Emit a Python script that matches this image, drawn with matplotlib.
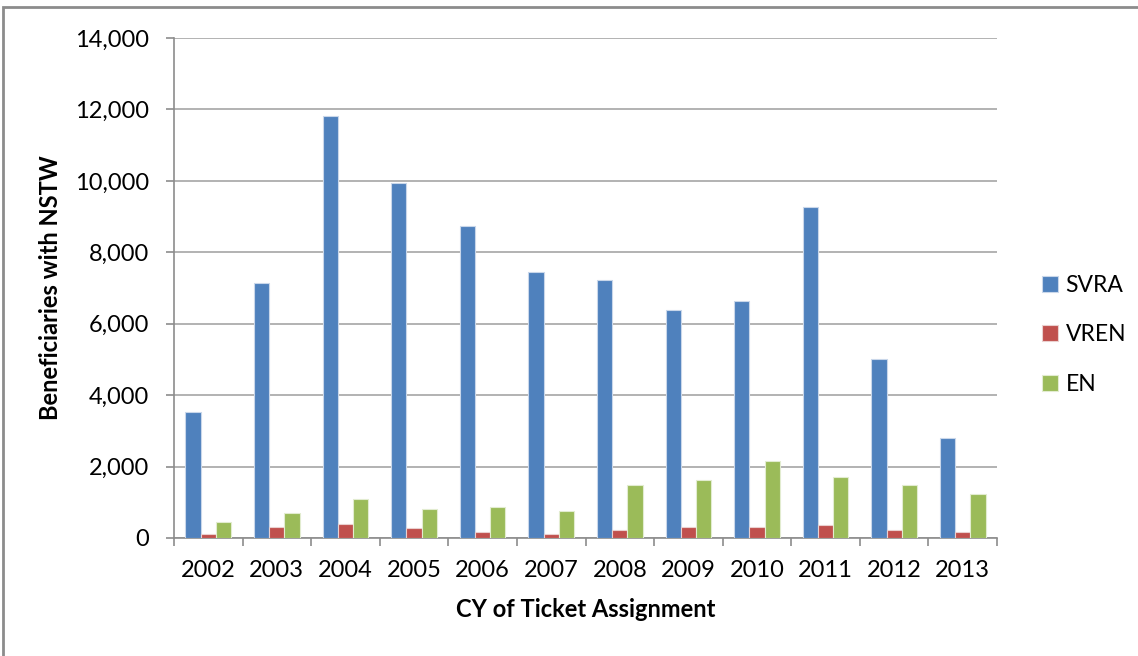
import matplotlib.pyplot as plt
import matplotlib.ticker as mticker
import numpy as np

# Data
years = ["2002", "2003", "2004", "2005", "2006", "2007",
         "2008", "2009", "2010", "2011", "2012", "2013"]
svra = [3530, 7130, 11810, 9945, 8725, 7440, 7210, 6380, 6630, 9270, 5000, 2805]
vren = [100, 320, 390, 280, 175, 100, 215, 320, 320, 365, 215, 175]
en = [460, 710, 1080, 825, 860, 760, 1475, 1625, 2170, 1700, 1475, 1220]

plt.rcParams['font.family'] = ['Lato', 'DejaVu Sans']

fig = plt.figure(figsize=(11.38, 6.56), dpi=100)
ax = fig.add_axes([174 / 1138, 1 - 538 / 656, 823 / 1138, 500 / 656])

# Outer chart frame (only top and left edges are visible in the crop)
frame = plt.Rectangle((3 / 1138, -0.1), 1.2, 1 - 7 / 656 + 0.1,
                      transform=fig.transFigure, fill=False,
                      edgecolor='#8c8c8c', linewidth=2, zorder=0)
fig.patches.append(frame)

x = np.arange(len(years))
w = 0.222
ax.bar(x - w, svra, w, color='#4F81BD', edgecolor='#c9d7ea', linewidth=0.8, label='SVRA', zorder=3)
ax.bar(x, vren, w, color='#C0504D', edgecolor='#ead0cf', linewidth=0.8, label='VREN', zorder=3)
ax.bar(x + w, en, w, color='#9BBB59', edgecolor='#e2ecd0', linewidth=0.8, label='EN', zorder=3)

ax.set_xlim(-0.5, len(years) - 0.5)
ax.set_ylim(0, 14000)
ax.yaxis.set_major_locator(mticker.MultipleLocator(2000))
ax.yaxis.set_major_formatter(mticker.StrMethodFormatter('{x:,.0f}'))
ax.grid(axis='y', color='#a6a6a6', linewidth=1.2, zorder=0)

ax.set_xticks(x)
ax.set_xticklabels(years)
ax.set_xticks(np.arange(-0.5, len(years)), minor=True)
ax.tick_params(axis='x', which='major', length=0, labelsize=17, pad=16)
ax.tick_params(axis='x', which='minor', length=6, color='#8c8c8c', width=1.2)
ax.tick_params(axis='y', length=6, color='#8c8c8c', width=1.2, labelsize=17, pad=12)

for side in ['top', 'right']:
    ax.spines[side].set_visible(False)
for side in ['left', 'bottom']:
    ax.spines[side].set_color('#8c8c8c')
    ax.spines[side].set_linewidth(1.2)

ax.set_xlabel('CY of Ticket Assignment', fontsize=17, fontweight='bold', labelpad=12)
ax.set_ylabel('Beneficiaries with NSTW', fontsize=17, fontweight='bold', labelpad=9)

fig.legend(loc='center left', bbox_to_anchor=(1021 / 1138, 1 - 335 / 656),
           frameon=False, fontsize=16.5, handlelength=0.7, handleheight=0.7,
           handletextpad=0.35, labelspacing=1.25)

fig.savefig('out.png', dpi=100)
